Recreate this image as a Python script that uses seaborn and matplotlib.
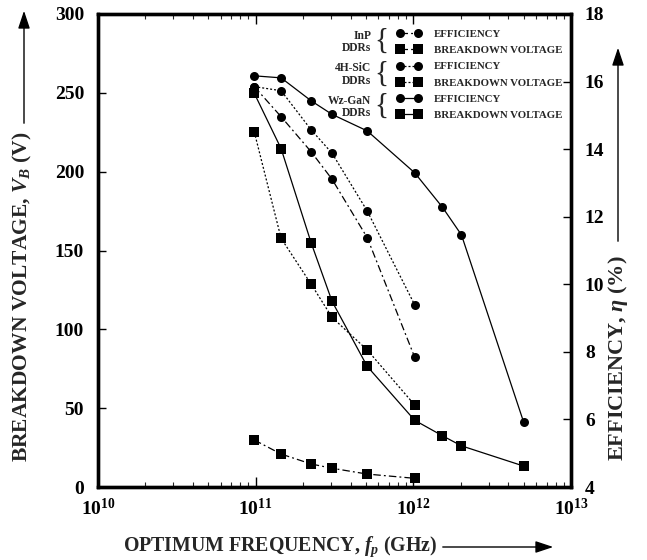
import numpy as np
import matplotlib
matplotlib.use("Agg")
import matplotlib.pyplot as plt
from matplotlib.lines import Line2D
from matplotlib.legend_handler import HandlerLine2D
from matplotlib.patches import FancyArrowPatch
import seaborn as sns

# optimum frequencies (Hz)
f_gan = [9.8e10, 1.45e11, 2.25e11, 3.05e11, 5.1e11, 1.02e12, 1.53e12, 2.02e12, 5.0e12]
f_sic = [9.8e10, 1.45e11, 2.25e11, 3.05e11, 5.1e11, 1.02e12]
f_inp = [9.8e10, 1.45e11, 2.25e11, 3.05e11, 5.1e11, 1.02e12]

# breakdown voltage (V)
vb_gan = [249.7, 214.6, 154.8, 117.8, 76.5, 42.3, 32.5, 26.1, 13.3]
vb_sic = [225.2, 157.7, 128.6, 107.6, 86.9, 52.0]
vb_inp = [29.8, 20.9, 14.6, 11.9, 8.2, 5.5]

# efficiency (%)
eta_gan = [16.17, 16.11, 15.43, 15.03, 14.54, 13.30, 12.28, 11.46, 5.93]
eta_sic = [15.85, 15.73, 14.57, 13.88, 12.17, 9.39]
eta_inp = [15.85, 14.96, 13.92, 13.11, 11.38, 7.84]

groups = ["InP\nDDRs", "4H-SiC\nDDRs", "Wz-GaN\nDDRs"]
entry_labels = ["EFFICIENCY", "BREAKDOWN VOLTAGE"]

sns.set_theme(style="ticks")
plt.rcParams["font.family"] = ["Liberation Serif", "DejaVu Serif"]
plt.rcParams["font.weight"] = "bold"
plt.rcParams["mathtext.fontset"] = "custom"
plt.rcParams["mathtext.rm"] = "Liberation Serif:bold"
plt.rcParams["mathtext.it"] = "Liberation Serif:italic:bold"
plt.rcParams["mathtext.bf"] = "Liberation Serif:bold"

ls_inp = (0, (6, 2.5, 1.5, 2.5))
ls_sic = (0, (1.6, 1.6))
ls_gan = "-"
styles = [ls_inp, ls_sic, ls_gan]

fig = plt.figure(figsize=(6.47, 5.60), dpi=100)
ax = fig.add_axes([98 / 647, 73 / 560, 473 / 647, 473 / 560])
ax2 = ax.twinx()

kw = dict(color="black", linewidth=0.9, markersize=6.5, markeredgewidth=0)
for f, vb, ls in [(f_inp, vb_inp, ls_inp), (f_sic, vb_sic, ls_sic), (f_gan, vb_gan, ls_gan)]:
    sns.lineplot(x=f, y=vb, ax=ax, marker="s", linestyle=ls, **kw)
for f, eta, ls in [(f_inp, eta_inp, ls_inp), (f_sic, eta_sic, ls_sic), (f_gan, eta_gan, ls_gan)]:
    sns.lineplot(x=f, y=eta, ax=ax2, marker="o", linestyle=ls, **kw)

ax.set_xscale("log")
ax.set_xlim(1e10, 1e13)
ax.set_ylim(0, 300)
ax2.set_ylim(4, 18)
ax.set_yticks(np.arange(0, 301, 50))
ax2.set_yticks(np.arange(4, 19, 2))
ax.set_xticks([1e10, 1e11, 1e12, 1e13])
ax.set_xticklabels(["10$^{10}$", "10$^{11}$", "10$^{12}$", "10$^{13}$"])
ax.set_xlabel("")
ax.set_ylabel("")
ax2.set_ylabel("")

for a in (ax, ax2):
    for s in a.spines.values():
        s.set_linewidth(2.4)
        s.set_color("black")
ax.tick_params(axis="x", which="major", direction="in", length=7, width=1, top=True,
               labelsize=14, pad=8, colors="black")
ax.tick_params(axis="x", which="minor", direction="in", length=3.5, width=0.8, top=True)
ax.tick_params(axis="y", direction="in", length=6, width=1, right=False,
               labelsize=14, pad=10, colors="black")
ax2.tick_params(axis="y", direction="in", length=6, width=1, labelsize=14, pad=10,
                colors="black")

# legend
handles = []
for ls in styles:
    handles.append(Line2D([], [], ls=ls, marker="o", **kw))
    handles.append(Line2D([], [], ls=ls, marker="s", **kw))
labels = entry_labels * 3
leg = ax2.legend(handles, labels, loc="upper left", bbox_to_anchor=(0.606, 0.968),
                 frameon=False, numpoints=2, handlelength=4.5, handletextpad=0.05,
                 labelspacing=0.62, borderpad=0, borderaxespad=0,
                 prop=dict(family="Liberation Serif", weight="bold", size=7.8),
                 handler_map={Line2D: HandlerLine2D(marker_pad=1.4)})

for i, g in enumerate(groups):
    yc = 0.941 - i * 0.069
    ax2.text(0.578, yc, g, transform=ax2.transAxes, ha="right", va="center",
             fontsize=8.3, fontweight="bold", linespacing=1.05)
    ax2.text(0.598, yc + 0.002, "{", transform=ax2.transAxes, ha="center", va="center",
             fontsize=21, fontweight="normal")

# axis titles with arrows
fig.text(22 / 647, 1 - 297 / 560, "BREAKDOWN VOLTAGE, $V_B$ (V)", rotation=90,
         ha="center", va="center", fontsize=15.5, fontweight="bold")
fig.text(618 / 647, 1 - 358 / 560, "EFFICIENCY, $\\eta$ (%)", rotation=90,
         ha="center", va="center", fontsize=16, fontweight="bold")
fig.text(280 / 647, 1 - 547 / 560, "OPTIMUM FREQUENCY, $f_p$ (GHz)",
         ha="center", va="center", fontsize=14.3, fontweight="bold")

arrow = dict(arrowstyle="-|>,head_length=0.9,head_width=0.3", color="black", lw=1)
fig.add_artist(FancyArrowPatch((24 / 647, 1 - 126 / 560), (24 / 647, 1 - 8 / 560),
                               transform=fig.transFigure, mutation_scale=12, **arrow))
fig.add_artist(FancyArrowPatch((618 / 647, 1 - 244 / 560), (618 / 647, 1 - 45 / 560),
                               transform=fig.transFigure, mutation_scale=12, **arrow))
fig.add_artist(FancyArrowPatch((440 / 647, 1 - 547 / 560), (556 / 647, 1 - 547 / 560),
                               transform=fig.transFigure, mutation_scale=12, **arrow))

fig.savefig("out.png", dpi=100)
